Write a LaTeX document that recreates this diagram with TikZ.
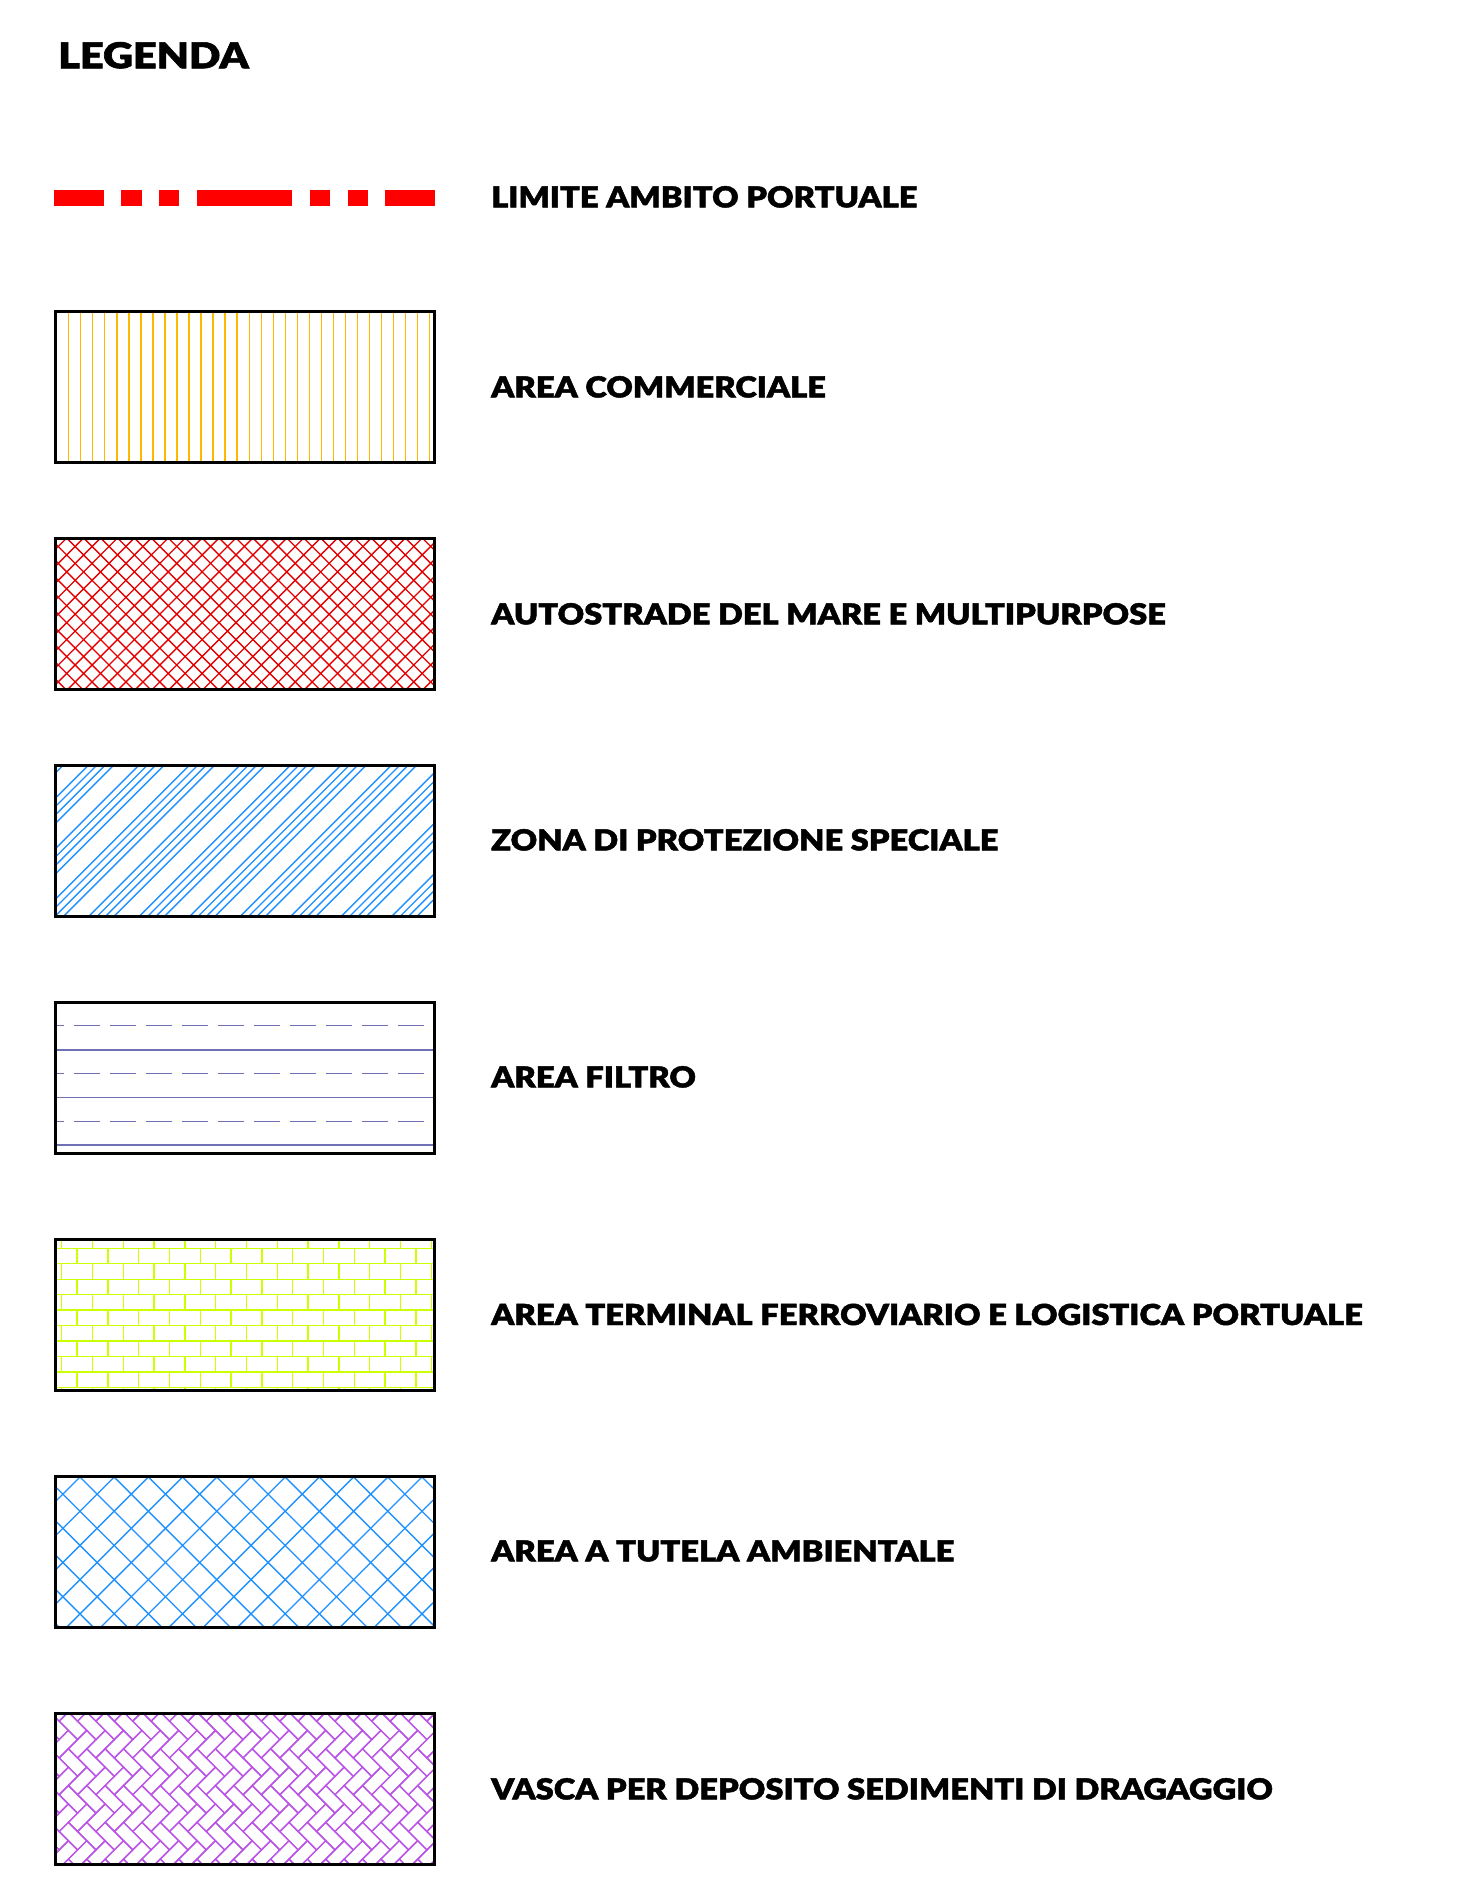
\documentclass[tikz,border=0pt]{standalone}
\usepackage{fontspec}
\setmainfont{Lato Black}[FakeBold=1.5]
\usetikzlibrary{positioning}
\definecolor{limred}{RGB}{255,0,0}
\definecolor{comorange}{RGB}{255,184,0}
\definecolor{autored}{RGB}{228,0,0}
\definecolor{zpsblue}{RGB}{30,144,255}
\definecolor{filtroline}{RGB}{112,112,180}
\definecolor{brickgreen}{RGB}{204,255,0}
\definecolor{tutblue}{RGB}{30,144,255}
\definecolor{vascapurple}{RGB}{186,85,230}
\newcommand{\widetext}[1]{\scalebox{1.13}[1]{#1}}
\tikzset{
  legbox/.style={draw=black,line width=3pt,minimum width=379pt,minimum height=151pt,inner sep=0pt,outer sep=0pt},
  legtext/.style={anchor=base west,inner sep=0pt,font=\fontsize{28.9}{30}\selectfont},
  hatch/.style={line width=1.35pt},
}
\begin{document}
\begin{tikzpicture}[x=1pt,y=-1pt]
\useasboundingbox (0,0) rectangle (1462,1887);
% title
\node[anchor=base west,inner sep=0pt,font=\fontsize{35.7}{38}\selectfont] (title) at (58,68.3) {\scalebox{1.16}[1]{LEGENDA}};
% limite ambito portuale
\fill[limred] (54,190) rectangle (104.3,205.7);
\fill[limred] (121,190) rectangle (141.7,205.7);
\fill[limred] (159,190) rectangle (179.3,205.7);
\fill[limred] (196.7,190) rectangle (292.3,205.7);
\fill[limred] (310,190) rectangle (330,205.7);
\fill[limred] (347.7,190) rectangle (368.3,205.7);
\fill[limred] (385,190) rectangle (435,205.7);
\node[legtext] (t0) at (491,207.4) {\widetext{LIMITE AMBITO PORTUALE}};
% boxes
\node[legbox] (b1) at (244.5,386.5) {};
\node[legbox] (b2) at (244.5,613.5) {};
\node[legbox] (b3) at (244.5,841) {};
\node[legbox] (b4) at (244.5,1077.5) {};
\node[legbox] (b5) at (244.5,1315) {};
\node[legbox] (b6) at (244.5,1552) {};
\node[legbox] (b7) at (244.5,1789) {};
% 1 commerciale
\begin{scope}
\clip (b1.north west) rectangle (b1.south east);
\foreach \k in {0,...,31} \draw[hatch,comorange] ({56.7+12.03*\k},300) -- ++(0,180);
\end{scope}
% 2 autostrade
\begin{scope}
\clip (b2.north west) rectangle (b2.south east);
\foreach \k in {-10,...,32} {
  \draw[hatch,autored] ({66.7+16.93*\k},538) -- ++(151,151);
  \draw[hatch,autored] ({66.7+16.93*\k},538) -- ++(-151,151);
}
\end{scope}
% 3 zona protezione speciale
\begin{scope}
\clip (b3.north west) rectangle (b3.south east);
\foreach \n in {-4,...,9} \foreach \d in {0,8.4,16.8,25.2}
  \draw[hatch,zpsblue] ({88.6+50.5*\n+\d},765) -- ++(-160,160);
\end{scope}
% 4 area filtro
\begin{scope}
\clip (b4.north west) rectangle (b4.south east);
\foreach \y in {1025.7,1073.3,1121.7}
  \draw[hatch,filtroline,dash pattern=on 25.7pt off 10.3pt] (38.3,\y) -- (440,\y);
\foreach \y in {1050,1097.3,1145}
  \draw[hatch,filtroline] (50,\y) -- (440,\y);
\end{scope}
% 5 terminal ferroviario
\begin{scope}
\clip (b5.north west) rectangle (b5.south east);
\foreach \m in {0,...,9} \draw[hatch,brickgreen] (50,{1248.3+15.44*\m}) -- (440,{1248.3+15.44*\m});
\foreach \r in {0,2,...,10} \foreach \k in {-1,...,12}
  \draw[hatch,brickgreen] ({61.7+30.8*\k},{1232.9+15.44*\r}) -- ++(0,15.44);
\foreach \r in {1,3,...,9} \foreach \k in {-1,...,12}
  \draw[hatch,brickgreen] ({77.1+30.8*\k},{1232.9+15.44*\r}) -- ++(0,15.44);
\end{scope}
% 6 tutela ambientale
\begin{scope}
\clip (b6.north west) rectangle (b6.south east);
\foreach \k in {-6,...,14} {
  \draw[hatch,tutblue] ({80+34.2*\k},1477) -- ++(160,160);
  \draw[hatch,tutblue] ({80+34.2*\k},1477) -- ++(-160,160);
}
\end{scope}
% 7 vasca (herringbone)
\begin{scope}
\clip (b7.north west) rectangle (b7.south east);
\begin{scope}[shift={(50,1712)},rotate=45,scale=13]
\foreach \i in {-4,...,26} \foreach \j in {-7,...,2} {
  \draw[hatch,vascapurple] ({\i+2*\j},{\i-2*\j}) rectangle ++(2,1);
  \draw[hatch,vascapurple] ({\i+2*\j},{\i-2*\j+1}) rectangle ++(1,2);
}
\end{scope}
\end{scope}
% borders redrawn
\foreach \b in {b1,b2,b3,b4,b5,b6,b7}
  \draw[line width=3pt] (\b.north west) rectangle (\b.south east);
% labels
\node[legtext] (t1) at (491,397.4) {\widetext{AREA COMMERCIALE}};
\node[legtext] (t2) at (491,624.4) {\widetext{AUTOSTRADE DEL MARE E MULTIPURPOSE}};
\node[legtext] (t3) at (491,850.4) {\widetext{ZONA DI PROTEZIONE SPECIALE}};
\node[legtext] (t4) at (491,1087.4) {\widetext{AREA FILTRO}};
\node[legtext] (t5) at (491,1325) {\widetext{AREA TERMINAL FERROVIARIO E LOGISTICA PORTUALE}};
\node[legtext] (t6) at (491,1561.4) {\widetext{AREA A TUTELA AMBIENTALE}};
\node[legtext] (t7) at (491,1799.4) {\widetext{VASCA PER DEPOSITO SEDIMENTI DI DRAGAGGIO}};
\end{tikzpicture}
\end{document}
